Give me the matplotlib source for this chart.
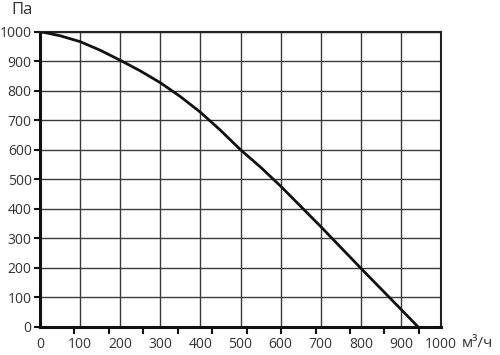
import numpy as np
import matplotlib.pyplot as plt

# fan curve
flow = [0, 50, 100, 150, 200, 250, 300, 350, 400, 450, 500, 550, 600, 700, 800, 900, 943]
pressure = [1000, 986, 966, 937, 903, 867, 827, 780, 727, 666, 600, 541, 477, 340, 199, 60, 0]

xticks = list(range(0, 1001, 100))
yticks = list(range(0, 1001, 100))

plt.rcParams['font.family'] = ['Open Sans', 'DejaVu Sans']

fig = plt.figure(figsize=(5, 3.55), dpi=100)
ax = fig.add_axes([0.08, 0.079, 0.802, 0.832])

ax.plot(flow, pressure, color='#111111', lw=2.0, solid_capstyle='butt',
        solid_joinstyle='round', zorder=3)

ax.set_xlim(0, 1000)
ax.set_ylim(0, 1000)
ax.set_xticks(xticks)
ax.set_yticks(yticks)
ax.set_xticks(np.arange(0, 1000, 85.9), minor=True)
ax.grid(True, which='major', color='#3a3a3a', lw=1.0)

ax.tick_params(axis='x', which='major', length=0, pad=7, labelsize=10, labelcolor='#333333')
ax.tick_params(axis='x', which='minor', length=5, width=1.5, direction='out', color='#111111')
ax.tick_params(axis='y', which='major', length=4, width=1.5, pad=2, labelsize=10,
               labelcolor='#333333', color='#111111')

for side in ['top', 'right']:
    ax.spines[side].set_linewidth(1.5)
    ax.spines[side].set_color('#222222')
for side in ['left', 'bottom']:
    ax.spines[side].set_linewidth(2.2)
    ax.spines[side].set_color('#111111')

fig.text(0.022, 0.995, 'Па', fontsize=12, color='#333333', va='top', ha='left')
fig.text(0.924, 0.033, 'м³/ч', fontsize=11, color='#333333', va='center', ha='left')

plt.savefig('out.png', dpi=100)
